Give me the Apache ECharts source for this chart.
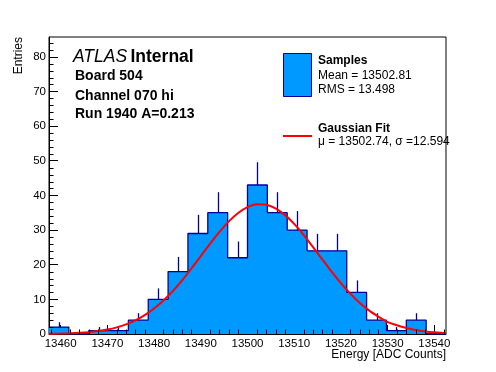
<!DOCTYPE html>
<html><head><meta charset="utf-8">
<script src="https://cdn.jsdelivr.net/npm/echarts@6/dist/echarts.min.js"></script>
<style>html,body{margin:0;padding:0;background:#fff}#c{width:496px;height:372px}</style>
</head><body><div id="c"></div>
<script>
// ---- data ----
const xMin = 13457.5;
const xMax = 13542.5;
const yMin = 0;
const yMax = 85.7;
const binWidth = 4.25;
const counts = [2, 0, 1, 1, 4, 10, 18, 29, 35, 22, 43, 35, 30, 24, 24, 12, 4, 1, 4, 0];
const errors = [1.41, 0, 1, 1, 2, 3.16, 4.24, 5.39, 5.92, 4.69, 6.56, 5.92, 5.48, 4.90, 4.90, 3.46, 2, 1, 2, 0];
const fitX = [13457.5, 13458, 13460, 13462, 13464, 13466, 13468, 13470, 13472, 13474, 13476, 13478, 13480,
  13482, 13484, 13486, 13488, 13490, 13492, 13494, 13496, 13498, 13500, 13502, 13504, 13506, 13508, 13510,
  13512, 13514, 13516, 13518, 13520, 13522, 13524, 13526, 13528, 13530, 13532, 13534, 13536, 13538, 13540, 13542, 13542.5];
const fitY = [0.059, 0.068, 0.118, 0.200, 0.331, 0.532, 0.835, 1.277, 1.91, 2.775, 3.94, 5.45, 7.35,
  9.66, 12.39, 15.50, 18.90, 22.48, 26.07, 29.47, 32.50, 34.93, 36.62, 37.44, 37.31, 36.26, 34.37, 31.76,
  28.62, 25.14, 21.54, 18.00, 14.66, 11.64, 9.02, 6.81, 5.02, 3.42, 2.52, 1.72, 1.15, 0.745, 0.47, 0.291, 0.257];
const xTickLabels = [13460, 13470, 13480, 13490, 13500, 13510, 13520, 13530, 13540];
const xMinorTicks = [13458, 13462, 13464, 13466, 13468, 13472, 13474, 13476, 13478, 13482, 13484, 13486, 13488,
  13492, 13494, 13496, 13498, 13502, 13504, 13506, 13508, 13512, 13514, 13516, 13518, 13522, 13524, 13526, 13528,
  13532, 13534, 13536, 13538, 13542];
const yTickLabels = [0, 10, 20, 30, 40, 50, 60, 70, 80];
const yMinorTicks = [2, 4, 6, 8, 12, 14, 16, 18, 22, 24, 26, 28, 32, 34, 36, 38, 42, 44, 46, 48, 52, 54, 56, 58,
  62, 64, 66, 68, 72, 74, 76, 78, 82, 84];

// ---- build ----
const FONT = 'Liberation Sans, Arial, Helvetica, sans-serif';
const FILL = '#0099ff';
const NAVY = '#000099';

const stepData = counts.map((c, i) => [xMin + i * binWidth, c]);
stepData.push([xMin + counts.length * binWidth, counts[counts.length - 1]]);
const errData = [];
counts.forEach((c, i) => { if (c > 0) errData.push([xMin + (i + 0.5) * binWidth, c, errors[i]]); });
const fitData = fitX.map((x, i) => [x, fitY[i]]);
const xMinorData = xMinorTicks.map(v => [v, yMin]);
const yMinorData = yMinorTicks.map(v => [xMin, v]);

const chart = echarts.init(document.getElementById('c'), null, { renderer: 'canvas' });
chart.setOption({
  animation: false,
  backgroundColor: '#fff',
  grid: { left: 49, right: 50, top: 37, bottom: 38, show: true, borderColor: '#000', borderWidth: 1,
          backgroundColor: 'transparent', containLabel: false, outerBoundsMode: 'none' },
  xAxis: {
    type: 'value', min: xMin, max: xMax, position: 'bottom',
    axisLine: { show: true, onZero: false, lineStyle: { color: '#000', width: 1 } },
    axisTick: { show: true, inside: true, length: 9, customValues: xTickLabels, lineStyle: { color: '#000', width: 1 } },
    axisLabel: { show: true, customValues: xTickLabels, color: '#000', fontSize: 11.5, fontFamily: FONT, margin: 4,
                 formatter: v => String(v) },
    splitLine: { show: false } },
  yAxis: {
    type: 'value', min: yMin, max: yMax, position: 'left',
    axisLine: { show: true, onZero: false, lineStyle: { color: '#000', width: 1 } },
    axisTick: { show: true, inside: true, length: 9, customValues: yTickLabels, lineStyle: { color: '#000', width: 1 } },
    axisLabel: { show: true, customValues: yTickLabels, color: '#000', fontSize: 11.5, fontFamily: FONT, margin: 3,
                 formatter: v => String(v) },
    splitLine: { show: false } },
  series: [
    { type: 'line', data: stepData, step: 'end', showSymbol: false, symbol: 'none',
      lineStyle: { color: NAVY, width: 1.3 }, areaStyle: { color: FILL, opacity: 1 }, z: 2, silent: true },
    { type: 'custom', data: errData, z: 3, silent: true,
      renderItem: function (params, api) {
        const x = api.value(0), c = api.value(1), e = api.value(2);
        const p0 = api.coord([x, c]);
        const p1 = api.coord([x, c + e]);
        return { type: 'line', shape: { x1: Math.round(p0[0]) + 0.5, y1: p0[1], x2: Math.round(p1[0]) + 0.5, y2: p1[1] },
                 style: { stroke: NAVY, lineWidth: 1.3 } };
      } },
    { type: 'line', data: fitData, smooth: 0.3, showSymbol: false, symbol: 'none',
      lineStyle: { color: '#ff0000', width: 2 }, z: 4, silent: true },
    { type: 'custom', data: xMinorData, z: 5, silent: true, clip: false,
      renderItem: function (params, api) {
        const p = api.coord([api.value(0), api.value(1)]);
        const x = Math.round(p[0]) + 0.5;
        return { type: 'line', shape: { x1: x, y1: p[1], x2: x, y2: p[1] - 4.5 }, style: { stroke: '#000', lineWidth: 1 } };
      } },
    { type: 'custom', data: yMinorData, z: 5, silent: true, clip: false,
      renderItem: function (params, api) {
        const p = api.coord([api.value(0), api.value(1)]);
        const y = Math.round(p[1]) + 0.5;
        return { type: 'line', shape: { x1: p[0], y1: y, x2: p[0] + 4.5, y2: y }, style: { stroke: '#000', lineWidth: 1 } };
      } }
  ],
  graphic: [
    { type: 'text', x: 19, y: 37, rotation: Math.PI / 2,
      style: { text: 'Entries', font: '12px ' + FONT, fill: '#000', align: 'right', verticalAlign: 'middle' } },
    { type: 'text', x: 446, y: 355,
      style: { text: 'Energy [ADC Counts]', font: '12px ' + FONT, fill: '#000', align: 'right', verticalAlign: 'middle' } },
    { type: 'text', x: 73, y: 57,
      style: { text: '{a|ATLAS} {b|Internal}', verticalAlign: 'middle', align: 'left',
        rich: { a: { fontStyle: 'italic', fontSize: 17.5, fontFamily: FONT, fill: '#000' },
                b: { fontWeight: 'bold', fontSize: 17.5, fontFamily: FONT, fill: '#000' } } } },
    { type: 'text', x: 75, y: 76, style: { text: 'Board 504', font: 'bold 14px ' + FONT, fill: '#000', verticalAlign: 'middle' } },
    { type: 'text', x: 75, y: 96, style: { text: 'Channel 070 hi', font: 'bold 14px ' + FONT, fill: '#000', verticalAlign: 'middle' } },
    { type: 'text', x: 75, y: 114, style: { text: 'Run 1940 A=0.213', font: 'bold 14px ' + FONT, fill: '#000', verticalAlign: 'middle' } },
    { type: 'rect', shape: { x: 283.5, y: 53.5, width: 28, height: 43 }, style: { fill: FILL, stroke: NAVY, lineWidth: 1 } },
    { type: 'text', x: 318, y: 61, style: { text: 'Samples', font: 'bold 12px ' + FONT, fill: '#000', verticalAlign: 'middle' } },
    { type: 'text', x: 318, y: 76, style: { text: 'Mean = 13502.81', font: '12px ' + FONT, fill: '#000', verticalAlign: 'middle' } },
    { type: 'text', x: 318, y: 90, style: { text: 'RMS = 13.498', font: '12px ' + FONT, fill: '#000', verticalAlign: 'middle' } },
    { type: 'line', shape: { x1: 283, y1: 136, x2: 312, y2: 136 }, style: { stroke: '#ff0000', lineWidth: 2 } },
    { type: 'text', x: 318, y: 129, style: { text: 'Gaussian Fit', font: 'bold 12px ' + FONT, fill: '#000', verticalAlign: 'middle' } },
    { type: 'text', x: 318, y: 142, style: { text: 'μ = 13502.74, σ =12.594', font: '12px ' + FONT, fill: '#000', verticalAlign: 'middle' } }
  ]
});
</script>
</body></html>
